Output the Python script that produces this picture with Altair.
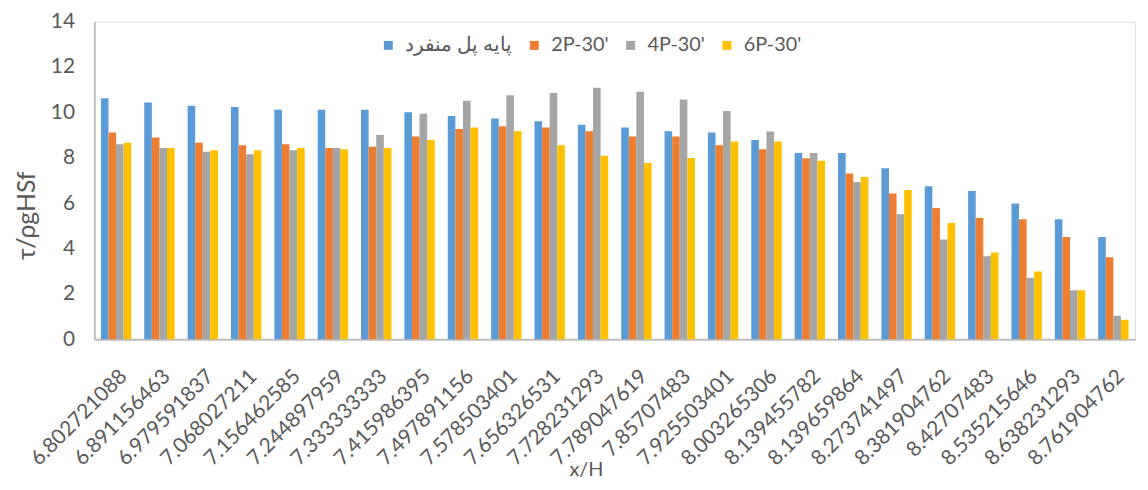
import altair as alt
import pandas as pd

x_labels = [
    "6.802721088", "6.891156463", "6.979591837", "7.068027211", "7.156462585",
    "7.244897959", "7.333333333", "7.415986395", "7.497891156", "7.578503401",
    "7.656326531", "7.728231293", "7.789047619", "7.85707483", "7.925503401",
    "8.003265306", "8.139455782", "8.139659864", "8.273741497", "8.381904762",
    "8.42707483", "8.535215646", "8.638231293", "8.761904762",
]
series_names = ["پایه پل منفرد", "2P-30'", "4P-30'", "6P-30'"]
colors = ["#5B9BD5", "#ED7D31", "#A5A5A5", "#FFC000"]

single_pier = [10.62, 10.44, 10.29, 10.24, 10.12, 10.12, 10.12, 10.00, 9.84, 9.73, 9.61, 9.45,
               9.33, 9.17, 9.11, 8.78, 8.21, 8.21, 7.54, 6.75, 6.53, 5.98, 5.29, 4.51]
p2_30 = [9.11, 8.89, 8.66, 8.55, 8.60, 8.43, 8.49, 8.94, 9.27, 9.39, 9.33, 9.17,
         8.94, 8.94, 8.55, 8.38, 7.98, 7.31, 6.42, 5.79, 5.35, 5.29, 4.51, 3.62]
p4_30 = [8.60, 8.43, 8.27, 8.15, 8.33, 8.43, 9.00, 9.94, 10.51, 10.75, 10.85, 11.08,
         10.91, 10.57, 10.06, 9.16, 8.21, 6.93, 5.51, 4.40, 3.66, 2.71, 2.16, 1.04]
p6_30 = [8.66, 8.43, 8.33, 8.33, 8.43, 8.38, 8.43, 8.78, 9.33, 9.17, 8.55, 8.09,
         7.77, 7.99, 8.72, 8.72, 7.87, 7.15, 6.58, 5.13, 3.83, 2.99, 2.16, 0.86]

rows = []
for name, vals in zip(series_names, [single_pier, p2_30, p4_30, p6_30]):
    for xl, v in zip(x_labels, vals):
        rows.append({"x": xl, "series": name, "value": v})
df = pd.DataFrame(rows)

txt = "#595959"
axis_line = "#BFBFBF"

chart = alt.Chart(df).mark_bar().encode(
    x=alt.X(
        "x:N", sort=x_labels,
        scale=alt.Scale(paddingInner=0.3, paddingOuter=0.15),
        axis=alt.Axis(
            title="x/H", labelAngle=-45, labelAlign="right", labelBaseline="top",
            labelPadding=26, labelFont="Lato", labelFontSize=21, labelColor=txt,
            labelOverlap=False, ticks=False, domainColor=axis_line, domainWidth=2,
            titleFont="Lato", titleFontSize=20, titleFontWeight="normal", titleColor=txt,
            titleX=495, titleY=131, titleBaseline="middle", titleAlign="center",
        ),
    ),
    xOffset=alt.XOffset("series:N", sort=series_names),
    y=alt.Y(
        "value:Q",
        scale=alt.Scale(domain=[0, 14], nice=False),
        axis=alt.Axis(
            title="τ/ρgHSf", values=[0, 2, 4, 6, 8, 10, 12, 14], grid=False, ticks=False,
            labelFont="Lato", labelFontSize=21, labelColor=txt, labelPadding=20,
            domainColor=axis_line, domainWidth=2,
            titleFont="Lato", titleFontSize=25, titleFontWeight="normal", titleColor=txt,
            titleX=-68, titleY=195, titleAlign="center", titleBaseline="middle",
        ),
    ),
    color=alt.Color(
        "series:N",
        scale=alt.Scale(domain=series_names, range=colors),
        legend=alt.Legend(
            orient="none", legendX=286, legendY=14, direction="horizontal", title=None,
            symbolType="square", symbolSize=81, symbolStrokeWidth=0,
            labelFont="Lato", labelFontSize=20, labelColor=txt, labelOffset=7,
            columnPadding=12, padding=0,
        ),
    ),
).properties(
    width=1048, height=320,
    padding={"left": 87, "top": 12, "right": 5, "bottom": 142},
    autosize="none",
).configure_view(stroke=None).configure(background="white")

chart.save("out.html", embed_options={"renderer": "svg", "actions": False})
